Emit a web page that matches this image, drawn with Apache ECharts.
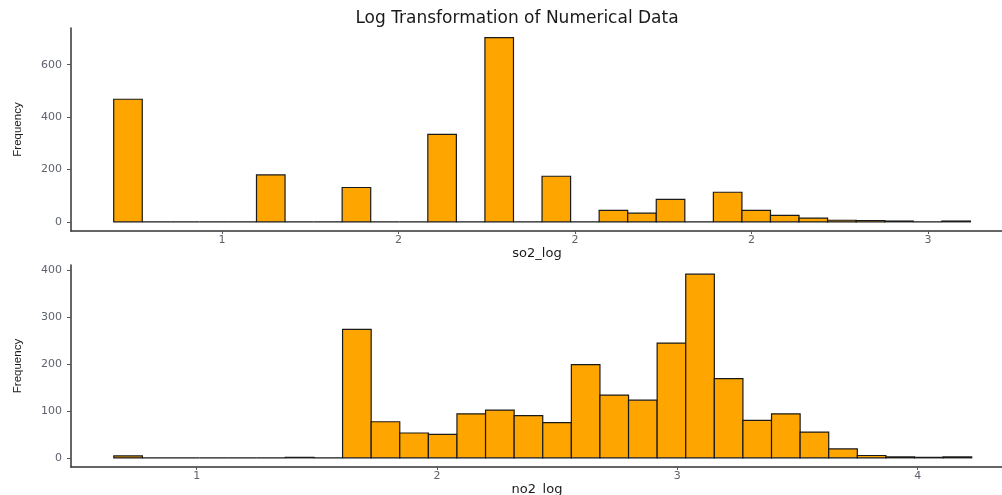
<!DOCTYPE html>
<html><head><meta charset="utf-8">
<script src="https://cdn.jsdelivr.net/npm/echarts@6/dist/echarts.min.js"></script>
<style>html,body{margin:0;padding:0;background:#fff}#c{width:1002px;height:495px}</style>
</head><body><div id="c"></div>
<script>
// so2_log histogram (30 bins)
const so2BinStart = 0.693;
const so2BinWidth = 0.0809;
const so2Counts = [468,0,0,0,0,179,0,0,131,0,0,334,0,703,0,174,0,44,33,86,0,113,44,25,14,6,5,3,0,3];
const so2Ticks = [1, 1.5, 2, 2.5, 3];
const so2TickLabels = ["1", "2", "2", "2", "3"];
const so2YTicks = [0, 200, 400, 600];

// no2_log histogram (30 bins)
const no2BinStart = 0.655;
const no2BinWidth = 0.119;
const no2Counts = [4,0,0,0,0,0,1,0,274,77,53,50,94,102,90,75,199,134,123,245,392,169,80,94,55,19,5,2,1,2];
const no2Ticks = [1, 2, 3, 4];
const no2TickLabels = ["1", "2", "3", "4"];
const no2YTicks = [0, 100, 200, 300, 400];

function bins(start, w, counts){
  return counts.map((c,i)=>[start+i*w, start+(i+1)*w, c]);
}
function render(params, api){
  const a = api.coord([api.value(0), 0]);
  const b = api.coord([api.value(1), api.value(2)]);
  return {type:'rect', shape:{x:a[0], y:b[1], width:b[0]-a[0], height:a[1]-b[1]},
    style:{fill:'#FFA500', stroke:'#1a1a1a', lineWidth:1.2}};
}
const wide = 'DejaVu Sans, Verdana, sans-serif';
const labelColor = '#5e626c';
function xAxis(idx, min, max, ticks, labels, name){
  return {type:'value', gridIndex:idx, min:min, max:max, name:name, nameLocation:'middle', nameGap:16,
    nameTextStyle:{color:'#1a1a1a', fontSize:13, fontFamily:wide, padding:[0,11,0,0]},
    axisLine:{show:true, onZero:false, lineStyle:{color:'#333', width:1.5}},
    axisTick:{show:true, customValues:ticks, length:3, lineStyle:{color:'#555'}},
    axisLabel:{customValues:ticks, color:labelColor, fontSize:11, fontFamily:wide, margin:4,
      formatter:v=>{const k=ticks.indexOf(v); return k>=0?labels[k]:'';}},
    splitLine:{show:false}};
}
function yAxis(idx, min, max, ticks){
  return {type:'value', gridIndex:idx, min:min, max:max, name:'Frequency', nameLocation:'middle', nameGap:47,
    nameTextStyle:{color:'#1a1a1a', fontSize:11.5, fontFamily:'Liberation Sans, Arial, sans-serif'},
    axisLine:{show:true, onZero:false, lineStyle:{color:'#333', width:1.5}},
    axisTick:{show:true, customValues:ticks, length:4, lineStyle:{color:'#555'}},
    axisLabel:{customValues:ticks, color:labelColor, fontSize:11, fontFamily:wide, margin:9},
    splitLine:{show:false}};
}
const chart = echarts.init(document.getElementById('c'), null, {renderer:'canvas'});
chart.setOption({
  animation:false,
  backgroundColor:'#fff',
  title:{text:'Log Transformation of Numerical Data', left:512, top:5, textAlign:'center',
    textStyle:{fontSize:17, fontWeight:'normal', color:'#1a1a1a', fontFamily:wide}},
  grid:[
    {left:71, top:28, width:943, height:203, outerBoundsMode:'none', containLabel:false},
    {left:71, top:265, width:943, height:202, outerBoundsMode:'none', containLabel:false}
  ],
  xAxis:[
    xAxis(0, 0.572, 3.2436, so2Ticks, so2TickLabels, 'so2_log'),
    xAxis(1, 0.4769, 4.401, no2Ticks, no2TickLabels, 'no2_log')
  ],
  yAxis:[
    yAxis(0, -35, 740, so2YTicks),
    yAxis(1, -19.6, 411.6, no2YTicks)
  ],
  series:[
    {type:'custom', xAxisIndex:0, yAxisIndex:0, renderItem:render,
      encode:{x:[0,1], y:2}, data:bins(so2BinStart, so2BinWidth, so2Counts), clip:false},
    {type:'custom', xAxisIndex:1, yAxisIndex:1, renderItem:render,
      encode:{x:[0,1], y:2}, data:bins(no2BinStart, no2BinWidth, no2Counts), clip:false}
  ]
});
</script></body></html>
